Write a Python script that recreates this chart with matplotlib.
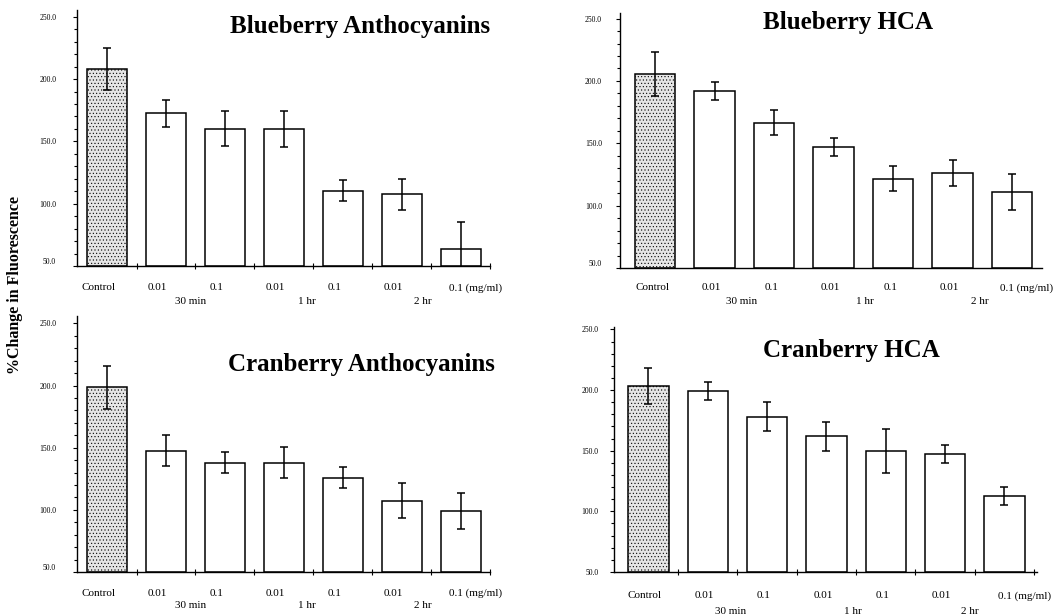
import matplotlib
matplotlib.use("Agg")
import matplotlib.pyplot as plt
import numpy as np

plt.rcParams['font.family'] = ['Liberation Serif', 'DejaVu Serif']
plt.rcParams['hatch.color'] = '#b4b4b4'
plt.rcParams['hatch.linewidth'] = 0.4

# ---------------- data ----------------
dose_labels = ["Control", "0.01", "0.1", "0.01", "0.1", "0.01", "0.1 (mg/ml)"]
time_labels = ["30 min", "1 hr", "2 hr"]

blueberry_anth_vals = [208.0, 172.5, 160.0, 160.0, 110.5, 107.5, 63.5]
blueberry_anth_err = [17.0, 11.0, 14.0, 14.5, 8.5, 12.5, 22.0]

blueberry_hca_vals = [205.5, 192.0, 166.5, 147.0, 121.5, 126.5, 111.0]
blueberry_hca_err = [17.5, 7.5, 10.0, 7.5, 10.0, 10.5, 14.5]

cranberry_anth_vals = [198.5, 147.5, 138.0, 138.0, 126.0, 107.5, 99.0]
cranberry_anth_err = [17.5, 12.5, 8.5, 12.5, 8.5, 14.0, 14.5]

cranberry_hca_vals = [203.5, 199.5, 178.0, 162.0, 150.0, 147.0, 112.5]
cranberry_hca_err = [15.0, 7.5, 12.0, 12.0, 18.0, 7.5, 7.5]

titles = ["Blueberry Anthocyanins", "Blueberry HCA",
          "Cranberry Anthocyanins", "Cranberry HCA"]
panel_vals = [blueberry_anth_vals, blueberry_hca_vals,
              cranberry_anth_vals, cranberry_hca_vals]
panel_errs = [blueberry_anth_err, blueberry_hca_err,
              cranberry_anth_err, cranberry_hca_err]

# ---------------- layout (pixels) ----------------
W, H = 1053, 615
layouts = [
    dict(box=(77, 490, 266, 10), xlim=(-0.51, 6.49), ytop=255.4, lab_off=(-0.14, 5.81),
         time_x=(1.41, 3.39, 5.36), lab_dy=21, time_dy=34, ypad=12, xticks=True,
         title_xy=(360, 27), raise50=True),
    dict(box=(620, 1042, 268, 13), xlim=(-0.59, 6.5), ytop=254.5, lab_off=(-0.05, 5.80),
         time_x=(1.46, 3.53, 5.46), lab_dy=19, time_dy=32, ypad=10, xticks=False,
         title_xy=(848, 23), raise50=True),
    dict(box=(77, 490, 572, 316), xlim=(-0.51, 6.49), ytop=256.0, lab_off=(-0.14, 5.81),
         time_x=(1.41, 3.40, 5.36), lab_dy=20, time_dy=33, ypad=12, xticks=True,
         title_xy=(361, 365), raise50=True),
    dict(box=(614, 1037, 572, 327), xlim=(-0.58, 6.55), ytop=252.0, lab_off=(-0.06, 5.89),
         time_x=(1.39, 3.44, 5.41), lab_dy=23, time_dy=39, ypad=8, xticks=True,
         title_xy=(851, 351), raise50=False),
]

fig = plt.figure(figsize=(W / 100, H / 100), dpi=100)

for vals, errs, title, L in zip(panel_vals, panel_errs, titles, layouts):
    x0, x1, yb, yt = L['box']
    ax = fig.add_axes([x0 / W, 1 - yb / H, (x1 - x0) / W, (yb - yt) / H])
    pos = np.arange(len(vals))
    base = 50.0
    heights = np.array(vals) - base
    colors = ['#e6e6e6'] + ['white'] * (len(vals) - 1)
    hatches = ['.....'] + [None] * (len(vals) - 1)
    bars = ax.bar(pos, heights, bottom=base, width=0.68, color=colors,
                  edgecolor='black', linewidth=1.1, zorder=2)
    for b, h in zip(bars, hatches):
        if h:
            b.set_hatch(h)
    ax.errorbar(pos, vals, yerr=errs, fmt='none', ecolor='black',
                elinewidth=1.1, capsize=2.6, capthick=1.1, zorder=3)

    ax.set_xlim(*L['xlim'])
    ax.set_ylim(50, L['ytop'])
    for s in ('top', 'right'):
        ax.spines[s].set_visible(False)
    ax.spines['left'].set_linewidth(1.0)
    ax.spines['bottom'].set_linewidth(1.0)

    # y axis
    ax.set_yticks(np.arange(50, 251, 50))
    ax.set_yticks(np.arange(50, 251, 10), minor=True)
    ax.set_yticklabels([f"{v:.1f}" for v in np.arange(50, 251, 50)], fontsize=5.5)
    ax.tick_params(axis='y', which='major', length=3, width=0.8, pad=L['ypad'])
    ax.tick_params(axis='y', which='minor', length=2.5, width=0.8)
    if L['raise50']:
        ax.get_yticklabels()[0].set_va('bottom')

    # x axis labels (dose)
    off, last = L['lab_off']
    lab_pos = list(pos[:-1] + off) + [last]
    ax.set_xticks(lab_pos)
    ax.set_xticklabels([])
    ax.tick_params(axis='x', which='major', length=0)
    for lp, lt in zip(lab_pos, dose_labels):
        ax.annotate(lt, xy=(lp, 0), xycoords=('data', 'axes fraction'),
                    xytext=(0, -L['lab_dy'] * 0.72), textcoords='offset points',
                    ha='left' if lt == dose_labels[-1] else 'center',
                    va='center_baseline', fontsize=8)
    if L['xticks']:
        ax.set_xticks(np.arange(0.5, 6.6, 1.0), minor=True)
        ax.tick_params(axis='x', which='minor', direction='inout', length=4, width=0.8)

    for tx, tl in zip(L['time_x'], time_labels):
        ax.annotate(tl, xy=(tx, 0), xycoords=('data', 'axes fraction'),
                    xytext=(0, -L['time_dy'] * 0.72), textcoords='offset points',
                    ha='center', va='center_baseline', fontsize=8)

    tx, ty = L['title_xy']
    fig.text(tx / W, 1 - ty / H, title, ha='center', va='center',
             fontsize=18, fontweight='bold')

fig.text(15 / W, 1 - 285 / H, "%Change in Fluorescence", rotation=90,
         ha='center', va='center', fontsize=11.5, fontweight='bold')

fig.savefig("out.png", dpi=100)
